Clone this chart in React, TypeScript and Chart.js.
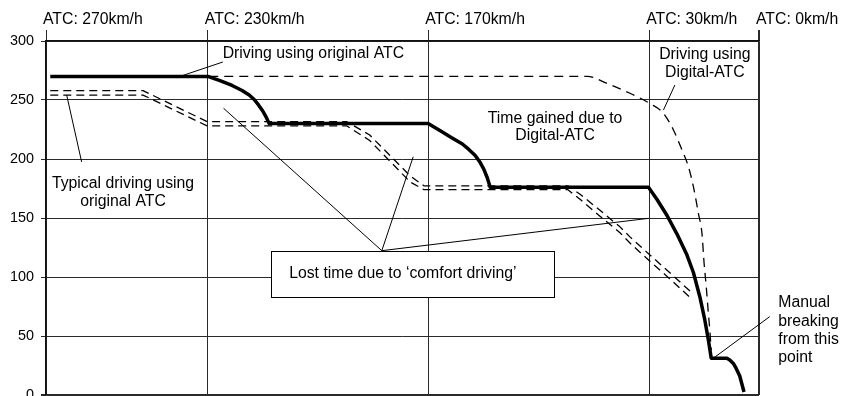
import React, { useEffect, useRef } from 'react';
import { Chart, registerables } from 'chart.js';

Chart.register(...registerables);

const FONT = 'Liberation Sans, Arial, Helvetica, sans-serif';

// Top axis: ATC speed limit sections (positions along the route, 0..100)
const atcLabels = ['ATC: 270km/h', 'ATC: 230km/h', 'ATC: 170km/h', 'ATC: 30km/h', 'ATC: 0km/h'];
const atcPositions = [0, 22.7, 53.6, 84.6, 100];

// Speed axis
const speedMin = 0;
const speedMax = 300;
const speedStep = 50;

// Driving using original ATC (thick solid)
const originalX = [
  0.6, 22.7, 24.4, 26.1, 27.5, 28.5, 29.2, 29.8, 30.4, 30.9, 31.3, 31.4,
  53.6, 55.3, 56.9, 58.4, 59.3, 60.2, 60.8, 61.4, 61.9, 62.3,
  84.5, 85.7, 87.1, 88.5, 89.9, 90.8, 91.7, 92.4, 92.9, 93.3,
  95.5, 95.9, 96.4, 96.8, 97.3, 97.6, 97.9,
];
const originalY = [
  270, 270, 266.4, 262.3, 258, 254.2, 250.4, 245.8, 240.7, 235.2, 230.1, 230,
  230, 223.9, 218.1, 212.7, 208.1, 203, 197.9, 191.5, 183.9, 176,
  176, 165.7, 152.1, 136.4, 118.6, 103.8, 83.3, 63.6, 46.6, 31.1,
  31.1, 29.7, 26.7, 22.5, 16.1, 9.3, 2.5,
];

// Driving using Digital-ATC (dashed)
const digitalX = [22.9, 75.9, 78.7, 81.9, 84.7, 86.6, 88.0, 89.2, 90.1, 90.8, 91.5, 92.0, 92.3, 92.6, 92.9, 93.1, 93.3];
const digitalY = [270, 270, 264, 255.7, 247, 238.7, 224.6, 207.6, 193.5, 176.5, 154, 137, 111.6, 91.8, 69.2, 55, 38];

// Typical driving using original ATC (double dashed)
const typicalX = [0.6, 13.6, 22.6, 42.2, 45.4, 51.1, 53.0, 73.2, 74.9, 77.7, 80.5, 81.9, 84.7, 87.5, 90.7];
const typicalUpperY = [258, 258, 231.6, 231.6, 220.3, 185.6, 177.3, 177.3, 170.2, 156.5, 142.5, 134, 118.7, 103.6, 86];
const typicalLowerY = [254.2, 254.2, 228, 228, 215.7, 180.4, 174, 174, 165.8, 151.5, 137.5, 128.8, 113.3, 98.4, 80.6];

// Annotation texts (data coordinates)
const noteTexts = [
  { lines: ['Driving using original ATC'], x: 37.5, y: [289], align: 'center' },
  { lines: ['Driving using', 'Digital-ATC'], x: 92.4, y: [288.5, 273.3], align: 'center' },
  { lines: ['Time gained due to', 'Digital-ATC'], x: 71.4, y: [234.5, 219.5], align: 'center' },
  { lines: ['Typical driving using', 'original ATC'], x: 10.8, y: [179.4, 163.8], align: 'center' },
  { lines: ['Manual', 'breaking', 'from this', 'point'], x: 102.7, y: [78, 62.3, 46.6, 31.8], align: 'left' },
];

// Leader lines [x1, y1, x2, y2] in data coordinates
const leaderLines = [
  [18.8, 270, 24.8, 282.2],
  [86.6, 241.5, 88.2, 262.7],
  [2.9, 254.2, 5.0, 197.5],
  [47.1, 122.3, 24.9, 243],
  [47.1, 122.3, 51.5, 201.9],
  [47.1, 122.3, 84.5, 149.7],
  [93.4, 30.3, 101.5, 66.4],
];

// Boxed note
const boxNote = { text: 'Lost time due to \u2018comfort driving\u2019', x1: 31.6, x2: 71.3, y1: 83.3, y2: 122.3, textX: 34.1, textY: 102.5 };

const toPoints = (xs: number[], ys: number[]) => xs.map((x, i) => ({ x, y: ys[i] }));

const notesPlugin = {
  id: 'notes',
  afterDatasetsDraw(chart: any) {
    const { ctx, scales } = chart;
    const xs = scales.x;
    const ys = scales.y;
    const px = (v: number) => xs.getPixelForValue(v);
    const py = (v: number) => ys.getPixelForValue(v);
    ctx.save();
    ctx.strokeStyle = '#000';
    ctx.lineWidth = 1;
    leaderLines.forEach((l) => {
      ctx.beginPath();
      ctx.moveTo(px(l[0]), py(l[1]));
      ctx.lineTo(px(l[2]), py(l[3]));
      ctx.stroke();
    });
    // boxed note
    const bx = Math.round(px(boxNote.x1)) + 0.5;
    const by = Math.round(py(boxNote.y2)) + 0.5;
    const bw = Math.round(px(boxNote.x2) - px(boxNote.x1));
    const bh = Math.round(py(boxNote.y1) - py(boxNote.y2));
    ctx.fillStyle = '#fff';
    ctx.fillRect(bx, by, bw, bh);
    ctx.strokeRect(bx, by, bw, bh);
    ctx.fillStyle = '#000';
    ctx.font = `15.8px ${FONT}`;
    ctx.textBaseline = 'middle';
    ctx.textAlign = 'left';
    ctx.fillText(boxNote.text, px(boxNote.textX), py(boxNote.textY));
    noteTexts.forEach((n) => {
      ctx.textAlign = n.align as CanvasTextAlign;
      n.lines.forEach((line, i) => {
        ctx.fillText(line, px(n.x), py(n.y[i]));
      });
    });
    ctx.restore();
  },
};

export default function App() {
  const canvasRef = useRef<HTMLCanvasElement | null>(null);

  useEffect(() => {
    const canvas = canvasRef.current;
    if (!canvas) return;
    const lineBase = {
      pointRadius: 0,
      pointHoverRadius: 0,
      fill: false,
      borderColor: '#000',
      tension: 0,
      borderCapStyle: 'butt' as const,
      borderJoinStyle: 'round' as const,
    };
    const chart = new Chart(canvas, {
      type: 'line',
      data: {
        datasets: [
          { ...lineBase, label: 'Typical upper', data: toPoints(typicalX, typicalUpperY), borderWidth: 1.3, borderDash: [8, 5] },
          { ...lineBase, label: 'Typical lower', data: toPoints(typicalX, typicalLowerY), borderWidth: 1.3, borderDash: [8, 5] },
          { ...lineBase, label: 'Digital-ATC', data: toPoints(digitalX, digitalY), borderWidth: 1.3, borderDash: [9, 6], cubicInterpolationMode: 'monotone' as const },
          { ...lineBase, label: 'Original ATC', data: toPoints(originalX, originalY), borderWidth: 3.5 },
        ],
      },
      options: {
        responsive: false,
        animation: false,
        devicePixelRatio: 1,
        layout: { padding: { left: 0, top: 0, right: 86, bottom: 25 } },
        plugins: {
          legend: { display: false },
          tooltip: { enabled: false },
        },
        events: [],
        scales: {
          x: {
            type: 'linear',
            position: 'top',
            min: 0,
            max: 100,
            afterBuildTicks: (s: any) => {
              s.ticks = atcPositions.map((v) => ({ value: v }));
            },
            afterFit: (s: any) => {
              s.height = 41;
              s.paddingLeft = 0;
              s.paddingRight = 0;
            },
            ticks: {
              autoSkip: false,
              maxRotation: 0,
              minRotation: 0,
              align: 'start',
              labelOffset: -3,
              padding: 1,
              color: '#000',
              font: { family: FONT, size: 15.8 },
              callback: (_v: any, i: number) => atcLabels[i],
            },
            grid: {
              color: '#2a2a2a',
              lineWidth: (c: any) => (c.index === atcPositions.length - 1 ? 2 : 1),
              tickLength: 11,
              drawTicks: true,
            },
            border: { display: true, color: '#111', width: 1.5 },
          },
          y: {
            type: 'linear',
            min: speedMin,
            max: speedMax,
            afterFit: (s: any) => {
              s.width = 46;
              s.paddingTop = 0;
              s.paddingBottom = 0;
            },
            ticks: {
              stepSize: speedStep,
              padding: 7,
              color: '#000',
              font: { family: FONT, size: 14.4 },
            },
            grid: {
              color: '#2a2a2a',
              lineWidth: (c: any) => (c.tick && c.tick.value === speedMin ? 2.5 : 1),
              tickLength: 5,
            },
            border: { display: true, color: '#111', width: 1.5 },
          },
        },
      },
      plugins: [notesPlugin],
    });
    return () => chart.destroy();
  }, []);

  return (
    <div style={{ position: 'fixed', left: 0, top: 0, width: 845, height: 420, background: '#fff' }}>
      <canvas ref={canvasRef} width={845} height={420} style={{ display: 'block' }} />
    </div>
  );
}
